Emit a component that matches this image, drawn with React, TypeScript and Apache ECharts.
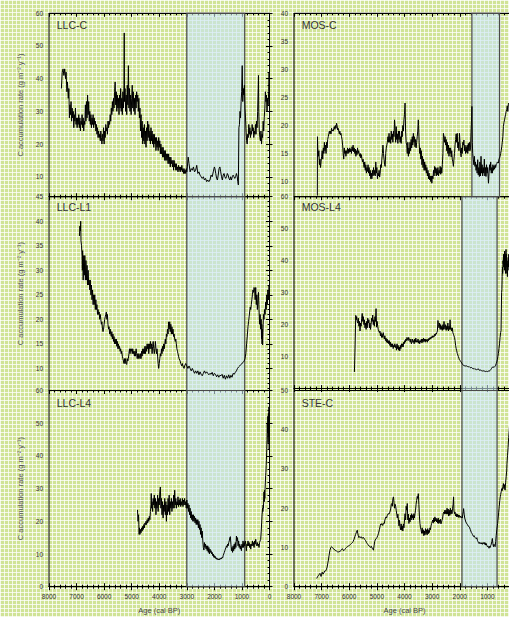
import React, { useEffect, useRef } from 'react';
import * as echarts from 'echarts';

// ---------------- DATA ----------------
// [age (cal BP), C accumulation rate (g m-2 y-1)]
const LLC_C: number[][] = [
  [7550,37],[7520,42],[7490,43],[7460,41],[7430,43],[7400,40],[7380,42],[7350,36],[7330,39],[7300,34],[7280,37],[7260,28],[7240,32],[7220,29],[7200,33],[7180,27],[7160,31],[7140,28],[7120,30],[7100,25],[7080,29],[7060,27],[7040,31],[7020,26],[7000,28],[6980,25],[6960,28],[6940,26],[6920,29],[6900,25],[6880,28],[6860,24],[6840,27],[6820,26],[6800,29],[6780,25],[6760,28],[6740,24],[6720,27],[6700,26],[6680,32],[6660,27],[6640,33],[6620,28],[6600,35],[6580,29],[6560,33],[6540,27],[6520,30],[6500,26],[6480,29],[6460,25],[6440,28],[6420,26],[6400,29],[6380,25],[6360,28],[6340,26],[6320,27],[6300,24],[6280,26],[6260,23],[6240,25],[6220,22],[6200,24],[6180,22],[6160,23],[6140,21],[6120,24],[6100,22],[6080,20],[6060,23],[6040,21],[6020,25],[6000,20],[5980,24],[5960,22],[5940,26],[5920,24],[5900,25],[5880,23],[5860,27],[5840,25],[5820,27],[5800,26],[5780,29],[5760,27],[5740,31],[5720,29],[5700,33],[5680,30],[5660,34],[5640,31],[5620,36],[5600,39],[5580,32],[5560,36],[5540,30],[5520,35],[5500,31],[5480,34],[5460,29],[5440,35],[5420,31],[5400,37],[5380,30],[5360,34],[5340,29],[5320,36],[5300,31],[5280,38],[5270,54],[5260,33],[5240,37],[5220,30],[5200,35],[5180,29],[5160,38],[5140,32],[5120,44],[5100,31],[5080,37],[5060,30],[5040,35],[5020,29],[5000,34],[4980,38],[4960,31],[4940,36],[4920,30],[4900,34],[4880,29],[4860,35],[4840,31],[4820,36],[4800,33],[4780,35],[4760,30],[4740,34],[4720,28],[4700,31],[4680,24],[4660,29],[4640,22],[4620,27],[4600,20],[4580,25],[4560,21],[4540,26],[4520,20],[4500,24],[4480,19],[4460,25],[4440,21],[4420,27],[4400,22],[4380,26],[4360,21],[4340,24],[4320,20],[4300,25],[4280,21],[4260,24],[4240,20],[4220,23],[4200,19],[4180,23],[4160,20],[4140,22],[4120,18],[4100,22],[4080,19],[4060,21],[4040,18],[4020,22],[4000,19],[3980,21],[3960,17],[3940,20],[3920,17],[3900,19],[3880,16],[3860,19],[3840,16],[3820,18],[3800,15],[3780,18],[3760,15],[3740,17],[3720,15],[3700,17],[3680,14],[3660,17],[3640,14],[3620,16],[3600,13],[3580,16],[3560,14],[3540,15],[3520,13],[3500,15],[3480,12],[3460,15],[3440,13],[3420,14],[3400,12],[3380,14],[3360,12],[3340,13],[3320,11.5],[3300,13.5],[3280,12],[3260,13],[3240,11.5],[3220,13],[3200,12],[3180,13.5],[3160,11.5],[3140,12.5],[3120,11],[3100,12.5],[3080,11],[3060,12],[3040,11],[3020,12.5],[3000,11.5],[2980,13],[2950,16],[2920,14],[2880,11.5],[2840,12.5],[2800,12],[2760,13],[2720,11.5],[2680,12],[2640,13.5],[2600,11],[2560,11.5],[2520,10.5],[2480,10],[2440,9.5],[2400,10],[2360,9],[2320,9.5],[2280,8.5],[2240,9],[2200,8.5],[2160,9],[2120,10.5],[2080,10],[2040,11.5],[2000,13],[1980,12.5],[1950,11],[1920,9.5],[1890,9],[1860,10.5],[1830,12.5],[1800,13],[1770,11.5],[1740,10],[1710,9],[1680,10.5],[1650,11],[1620,10],[1590,9.5],[1560,10],[1530,11],[1500,10.5],[1470,9.5],[1440,9],[1410,10],[1380,9],[1350,10],[1320,10.5],[1290,10],[1260,9.5],[1230,10],[1200,11],[1170,10],[1150,8.5],[1130,7.5],[1110,25],[1090,26],[1070,30],[1050,28],[1030,33],[1010,36],[990,44],[970,33],[950,37],[930,35],[910,38],[890,31],[870,28],[850,24],[830,21],[810,20],[790,23],[770,22],[750,26],[730,23],[710,25],[690,22],[670,24],[650,23],[630,26],[610,24],[590,25],[570,22],[550,24],[530,23],[510,26],[490,23],[470,27],[450,25],[430,30],[410,37],[400,41],[390,30],[370,24],[350,22],[330,21],[310,24],[290,20],[270,23],[250,22],[230,27],[210,24],[190,28],[170,31],[150,36],[130,33],[110,35],[90,30],[70,34],[50,32],[30,36],[15,42],[5,35]
];

const LLC_L1: number[][] = [
  [6895,37],[6880,39],[6860,38],[6850,40],[6840,36],[6820,35],[6800,33],[6790,30],[6780,34],[6760,28],[6740,33],[6720,29],[6700,33],[6680,28],[6660,32],[6640,28],[6620,31],[6600,27],[6580,30],[6560,27],[6540,28],[6520,26],[6500,28],[6480,25],[6460,27],[6440,24],[6420,26],[6400,23],[6380,25],[6360,23],[6340,25],[6320,22],[6300,24],[6280,22],[6260,23],[6240,21],[6220,22],[6200,21],[6180,21.5],[6160,20],[6140,21],[6120,20],[6100,19],[6080,19.5],[6060,18],[6040,17.5],[6020,18],[6000,19],[5980,20],[5960,20.5],[5940,21],[5920,21.5],[5900,20],[5880,21],[5860,19],[5840,18],[5820,18.5],[5800,17],[5780,18],[5760,17],[5740,16.5],[5720,17.5],[5700,16],[5680,17],[5660,15.5],[5640,16.5],[5620,15],[5600,16],[5580,15],[5560,16],[5540,14.5],[5520,15.5],[5500,14],[5480,15],[5460,14],[5440,14.5],[5420,13.5],[5400,14],[5380,13],[5360,13.5],[5340,12.5],[5320,12],[5300,11.5],[5280,11],[5260,12],[5240,11],[5220,12],[5200,11],[5180,10.8],[5160,12],[5140,11.5],[5120,12],[5100,13],[5080,14],[5060,13],[5040,14],[5020,13.5],[5000,14],[4980,13],[4960,14],[4940,13],[4920,13.5],[4900,12.5],[4880,13.5],[4860,12.5],[4840,14],[4820,13],[4800,12],[4780,13],[4760,12],[4740,13],[4720,12.5],[4700,12],[4680,13],[4660,12],[4640,13.5],[4620,12.5],[4600,14],[4580,13],[4560,14],[4540,13],[4520,14.5],[4500,13],[4480,14.5],[4460,13.5],[4440,15],[4420,14],[4400,15],[4380,13],[4360,15],[4340,14],[4320,15.5],[4300,14],[4280,15],[4260,13],[4240,14.5],[4220,15.5],[4200,14],[4180,13],[4160,14],[4140,15.5],[4120,14],[4100,13],[4080,14],[4060,12.5],[4040,11],[4020,10],[4000,11],[3980,12],[3960,13],[3940,12.5],[3920,14],[3900,13],[3880,14.5],[3860,13.5],[3840,15],[3820,14],[3800,15],[3780,16],[3760,15],[3740,17],[3720,16.5],[3700,18],[3680,17],[3660,19.5],[3640,18],[3620,19.5],[3600,17.5],[3580,19],[3560,17],[3540,18.5],[3520,17],[3500,18],[3480,16.5],[3460,17],[3440,16],[3420,15.5],[3400,16],[3380,15],[3360,14],[3340,13.5],[3320,13],[3300,12.5],[3280,12],[3260,12],[3240,11.5],[3220,11],[3200,11],[3180,10.5],[3160,11],[3140,10.5],[3120,10.5],[3100,10],[3080,10.5],[3060,10.5],[3040,11],[3000,10.5],[2960,10],[2920,10.5],[2880,10],[2840,9.5],[2800,10],[2760,9.5],[2720,9],[2680,9.5],[2640,9],[2600,9.5],[2560,8.7],[2520,9.3],[2480,8.8],[2440,8.5],[2400,9],[2360,9.5],[2320,9],[2280,9.3],[2240,9],[2200,8.7],[2160,9],[2120,8.8],[2080,9.2],[2040,8.5],[2000,9],[1960,8.8],[1920,8.3],[1880,8.7],[1840,8.2],[1800,8.6],[1760,8.5],[1720,8.8],[1680,8],[1640,8.6],[1600,7.8],[1560,8.5],[1520,8],[1480,8.7],[1440,8],[1400,8.6],[1360,8.2],[1320,9],[1280,8.8],[1240,9.2],[1200,9.5],[1160,10],[1120,10.3],[1080,10.5],[1040,10.8],[1000,11],[960,11.2],[920,11.5],[890,12],[860,13],[830,15],[800,17],[780,18.5],[760,19.5],[740,20.5],[720,21.5],[700,22.5],[680,22],[660,23],[640,24],[620,25],[600,26],[580,25.5],[560,26.5],[540,26],[520,24],[500,26.5],[480,23],[460,25],[440,22],[420,24],[400,25.5],[380,22],[360,19],[340,21],[320,18],[300,20],[290,16],[280,19],[270,15],[260,18],[250,14.8],[240,17],[230,19],[220,21],[200,20],[180,22],[160,21],[140,23.5],[120,22],[100,25],[80,23],[60,26],[40,24],[20,27],[5,26.5]
];

const LLC_L4: number[][] = [
  [4790,23.5],[4770,20],[4750,22],[4730,16],[4720,18],[4700,16],[4680,17.5],[4660,16.5],[4640,18],[4620,17],[4600,18.5],[4580,17.5],[4560,19],[4540,18],[4520,19.5],[4500,19],[4480,20],[4460,19],[4440,20.5],[4420,19.5],[4400,21],[4380,20],[4360,21.5],[4340,20.5],[4320,23],[4300,25],[4290,28.5],[4280,24],[4260,26],[4240,23],[4220,27],[4200,25],[4180,28],[4160,24],[4140,27],[4120,22],[4100,26],[4080,24],[4060,28],[4040,23],[4020,27],[4000,25],[3980,29],[3960,30.5],[3940,24],[3920,27],[3900,22],[3880,26],[3860,21],[3840,25],[3820,23],[3800,27],[3780,22],[3760,26],[3740,20],[3720,25],[3700,22],[3680,27],[3660,23],[3640,28],[3620,22],[3600,26],[3580,24],[3560,27],[3540,23],[3520,26],[3500,24],[3480,28],[3460,24],[3440,29.5],[3420,25],[3400,27],[3380,24],[3360,26],[3340,25],[3320,27.5],[3300,24.5],[3280,26.5],[3260,25],[3240,27],[3220,24.5],[3200,26],[3180,25],[3160,27],[3140,24.5],[3120,26.5],[3100,25],[3080,27],[3060,25],[3040,26],[3020,24],[3000,26.5],[2980,24],[2960,25.5],[2940,23],[2920,25],[2900,22],[2880,24],[2860,21],[2840,23],[2820,20.5],[2800,22],[2780,20],[2760,22],[2740,20],[2720,21.5],[2700,19.5],[2680,21],[2660,19],[2640,20.5],[2620,19],[2600,20.5],[2580,18],[2560,20],[2540,17.5],[2520,19],[2500,16],[2480,18],[2460,15],[2440,17],[2420,14],[2400,12],[2380,11.2],[2360,13.5],[2340,12],[2320,13],[2300,11.5],[2280,12.5],[2260,11],[2240,12.5],[2220,10.5],[2200,12],[2180,10],[2160,11.5],[2140,10.5],[2120,11],[2100,10],[2080,10.5],[2060,9.5],[2040,10],[2020,9],[2000,9.5],[1980,8.8],[1960,9.2],[1940,8.5],[1920,8.8],[1900,8.3],[1880,8.6],[1860,8.2],[1840,8.5],[1820,8.2],[1800,8.6],[1780,8.4],[1760,8.8],[1740,8.5],[1720,9],[1700,8.8],[1680,9.5],[1660,10],[1640,10.5],[1620,11],[1600,11.5],[1580,12],[1560,12.5],[1540,12],[1520,13],[1500,12.5],[1480,13.5],[1460,14],[1440,15],[1420,15.3],[1400,13],[1380,11],[1360,12],[1340,10.5],[1320,12.5],[1300,11],[1280,13],[1260,11.5],[1240,13.5],[1220,12],[1200,15.5],[1180,14],[1160,15],[1140,12.5],[1120,14],[1100,12],[1080,13],[1060,11.5],[1040,12.5],[1020,11],[1000,13],[980,12],[960,14],[940,12],[920,13.5],[900,12.5],[880,14],[860,13],[840,11],[820,13],[800,12.5],[780,14],[760,12.5],[740,13.5],[720,12],[700,13],[680,11.5],[660,13],[640,12.5],[620,14],[600,12.5],[580,13.5],[560,12],[540,14],[520,13],[500,14.5],[480,13],[460,12.5],[440,13.5],[420,12.5],[400,13],[380,12],[360,13.5],[340,14],[320,14.5],[300,17],[285,19.5],[270,22],[250,24],[240,23],[230,25],[220,24],[200,29],[190,26],[180,29.5],[170,27],[160,30],[150,32],[140,34],[130,35],[120,37],[110,39],[100,42],[90,45],[80,50],[70,47],[60,52],[50,44],[40,53],[30,46],[20,55],[10,42],[5,48]
];

const MOS_C: number[][] = [
  [7155,7.5],[7150,18],[7140,16],[7120,14.5],[7100,15.5],[7080,13],[7060,14],[7040,12.5],[7020,13.5],[7000,14.5],[6980,15.5],[6960,14],[6940,16],[6920,15],[6900,17],[6880,15.5],[6860,16.5],[6840,15],[6820,17],[6800,16],[6780,17.5],[6760,18],[6740,18.5],[6720,19],[6700,18.5],[6680,19],[6660,18.5],[6640,19.5],[6620,19],[6600,19.2],[6580,19],[6560,19.5],[6540,19.8],[6520,19.3],[6500,20],[6480,19.5],[6460,20.4],[6440,20],[6420,19.2],[6400,19.5],[6380,19],[6360,18.5],[6340,19],[6320,18.3],[6300,18.6],[6280,18],[6260,17.5],[6240,16.5],[6220,15],[6200,14],[6180,16],[6160,15],[6140,15.5],[6120,14.5],[6100,15.5],[6080,15],[6060,16],[6040,15],[6020,15.8],[6000,15.2],[5980,16],[5960,15.3],[5940,15.8],[5920,15],[5900,16.2],[5880,15.5],[5860,16.5],[5840,15.3],[5820,16],[5800,15],[5780,15.8],[5760,14.5],[5740,15.5],[5720,14.8],[5700,16],[5680,15],[5660,15.5],[5640,15],[5620,14.5],[5600,15],[5580,14.2],[5560,14.8],[5540,14],[5520,13.5],[5500,14],[5480,13],[5460,12.5],[5440,13.5],[5420,12],[5400,13],[5380,11.5],[5360,12.5],[5340,11.8],[5320,13],[5300,11.5],[5280,12.5],[5260,11],[5240,12],[5220,10.5],[5200,11.5],[5180,10.5],[5160,12],[5140,11],[5120,12.5],[5100,11.2],[5080,12],[5060,11],[5040,13.5],[5020,11.5],[5000,12.5],[4980,10.5],[4960,11.5],[4940,11],[4920,12],[4900,10.8],[4880,11.5],[4860,13],[4840,12.5],[4820,14],[4800,15],[4780,16.5],[4760,15],[4740,14],[4720,13],[4700,12.7],[4680,15],[4660,16],[4640,16.5],[4620,17],[4600,18],[4580,17],[4560,18.6],[4540,17],[4520,18],[4500,16.8],[4480,19],[4460,17.5],[4440,18.5],[4420,17],[4400,19],[4380,18],[4360,21],[4340,19.5],[4320,17],[4300,19.8],[4280,17.5],[4260,18.5],[4240,16.8],[4220,19],[4200,17.5],[4180,19],[4160,17],[4140,18],[4120,16.8],[4100,19],[4080,18],[4060,20],[4040,19],[4020,21],[4000,22],[3980,24],[3960,19],[3940,17],[3920,16.5],[3900,15],[3880,17],[3860,14.5],[3840,16],[3820,15],[3800,17],[3780,15.5],[3760,17.5],[3740,16],[3720,18],[3700,16.5],[3680,18.6],[3660,17],[3640,18],[3620,16.2],[3600,17.5],[3580,16],[3560,17],[3540,18],[3520,19],[3500,21],[3490,20],[3470,17],[3450,15],[3430,16],[3410,14],[3390,15.5],[3370,13],[3350,14.5],[3330,12.5],[3310,14],[3290,12],[3270,13.5],[3250,12],[3230,13],[3210,11.5],[3190,12.5],[3170,11],[3150,12],[3130,10.5],[3110,11.5],[3090,10.3],[3070,11],[3050,10],[3030,11],[3010,9.7],[2990,11],[2970,10.5],[2950,12],[2930,11],[2910,12.7],[2890,11.5],[2870,12.5],[2850,11],[2830,12.3],[2810,11.2],[2790,12.5],[2770,11],[2750,12],[2730,11.5],[2710,12.7],[2690,11.3],[2670,12.5],[2650,11.5],[2630,13],[2610,15],[2590,18.6],[2570,18],[2550,17],[2530,18],[2510,16.5],[2490,17.5],[2470,15.5],[2450,17],[2430,15],[2410,16.5],[2390,14.5],[2370,16],[2350,15],[2330,16],[2310,14.4],[2290,15.5],[2270,14],[2250,13.5],[2230,12.7],[2210,14],[2190,15],[2170,16.5],[2150,17.5],[2130,18.5],[2110,17],[2090,18.6],[2070,16],[2050,17],[2030,15.5],[2010,18.6],[1990,17],[1970,15],[1950,14.4],[1930,16],[1910,15],[1890,17],[1870,16.5],[1850,17.4],[1830,15.5],[1810,16.5],[1790,15],[1770,16.2],[1750,15.2],[1730,16.5],[1710,15],[1690,16.8],[1670,15.5],[1650,17],[1630,15.5],[1610,16],[1590,19],[1570,21.5],[1560,23.4],[1545,17],[1530,15],[1510,14],[1490,13],[1470,14.5],[1450,12.7],[1430,13.5],[1410,12],[1390,13],[1370,11.5],[1350,13.9],[1330,11.2],[1310,12.5],[1290,10.9],[1270,13.5],[1250,11],[1230,14.5],[1210,11.5],[1190,13],[1170,11],[1150,12.5],[1130,11.5],[1110,14],[1090,11],[1070,12.5],[1050,10.9],[1030,13],[1010,11.5],[990,12.5],[970,10.5],[960,9.7],[940,11.5],[920,13],[900,12],[880,13.5],[860,11.5],[840,12.5],[820,11.5],[800,13],[780,12],[760,12.8],[740,12.2],[720,13],[700,12.5],[680,13],[660,13.2],[640,13.5],[620,13.5],[600,13.3],[580,14],[560,14.2],[540,14.5],[520,15],[500,15.5],[480,16.2],[460,17],[440,18],[420,19.8],[400,20.5],[380,21],[360,21.5],[340,22],[320,22.5],[300,22.8],[280,23.5],[260,22.5],[240,23.8],[220,24],[200,23.5],[150,24],[100,23]
];

const MOS_L4: number[][] = [
  [5813,5.2],[5790,13],[5765,22.9],[5750,21.5],[5730,22.5],[5710,21],[5690,20.5],[5670,22],[5650,19.5],[5630,21],[5610,18],[5590,20.5],[5570,19.5],[5550,22],[5530,23.5],[5510,21],[5490,22.5],[5470,20],[5450,21.5],[5430,19],[5410,20.5],[5390,18.5],[5370,21],[5350,19],[5330,22],[5310,20.5],[5290,21.5],[5270,19],[5250,20.5],[5230,18.5],[5210,20],[5190,22],[5170,21],[5150,23],[5130,20],[5110,21.5],[5090,19.5],[5070,22.5],[5050,21],[5030,25],[5010,19.2],[4990,21],[4970,19.5],[4950,18.5],[4930,18],[4910,17.5],[4890,18],[4870,16.5],[4850,17.5],[4830,16],[4810,17],[4790,16],[4770,17.5],[4750,16.5],[4730,15.5],[4710,16.5],[4690,15],[4670,15.8],[4650,14.5],[4630,15.5],[4610,14.3],[4590,15],[4570,14],[4550,15],[4530,13.5],[4510,14.5],[4490,13],[4470,14],[4450,13],[4430,14],[4410,12.5],[4390,13.5],[4370,13],[4350,14],[4330,12.8],[4310,13.5],[4290,12],[4270,14],[4250,12.5],[4230,13.5],[4210,12],[4190,13],[4170,11.8],[4150,13.5],[4130,12.5],[4110,14],[4090,13],[4070,14],[4050,13],[4030,14.5],[4010,14],[3990,15],[3970,14.5],[3950,15.5],[3930,15],[3910,16],[3890,15.5],[3870,15],[3850,16],[3830,15.5],[3810,15],[3790,14.5],[3770,15.5],[3750,14],[3730,14.5],[3710,15.5],[3690,14.5],[3670,15],[3650,14],[3630,15.5],[3610,14.5],[3590,15.8],[3570,14.5],[3550,15],[3530,14.5],[3510,15.5],[3490,14.2],[3470,15],[3450,14],[3430,15],[3410,14.5],[3390,15.5],[3370,14.3],[3350,15.5],[3330,14.5],[3310,15.8],[3290,14.8],[3270,15.5],[3250,14.5],[3230,15.5],[3210,14.8],[3190,15.3],[3170,14.5],[3150,15.5],[3130,15],[3110,15.8],[3090,15.3],[3070,16],[3050,15.5],[3030,16.2],[3010,15.8],[2990,16.5],[2970,16],[2950,16.5],[2930,16.2],[2910,17],[2890,16.5],[2870,17.2],[2850,17],[2830,17.5],[2810,18],[2790,21.3],[2770,20],[2750,19],[2730,20.5],[2710,18.5],[2690,20],[2670,18.5],[2650,19.5],[2630,18.2],[2610,20],[2590,18.5],[2570,21],[2550,19],[2530,18.5],[2510,20],[2490,18.2],[2470,19.5],[2450,18.5],[2430,20.5],[2410,18],[2390,19.5],[2370,18.5],[2350,21.5],[2330,18.5],[2310,19],[2290,18],[2270,19],[2250,17.5],[2230,17],[2210,16.5],[2190,16],[2170,15],[2150,13.5],[2130,12.5],[2110,11.8],[2090,11],[2070,10.5],[2050,10],[2030,9.5],[2010,9],[1990,8.8],[1970,8.5],[1950,8.3],[1930,8],[1900,7.6],[1870,7.3],[1840,7.1],[1810,7.2],[1780,7],[1750,7.1],[1720,6.9],[1690,6.8],[1660,6.9],[1630,6.6],[1600,6.5],[1570,6.6],[1540,6.3],[1510,6.2],[1480,6.3],[1450,6],[1420,6.1],[1390,5.9],[1360,6],[1330,6.2],[1300,5.8],[1270,5.7],[1240,5.8],[1210,5.6],[1180,5.5],[1150,5.6],[1120,5.4],[1090,5.5],[1060,5.3],[1030,5.4],[1000,5.3],[970,5.5],[940,5.4],[910,5.6],[880,5.9],[850,6.3],[820,6.7],[790,6.8],[760,6.6],[730,6.9],[700,7.3],[680,7.8],[660,8.3],[640,9],[620,10],[600,11],[580,12.5],[560,14],[540,16],[520,17.5],[505,18.2],[495,24],[485,30],[475,31],[465,35],[455,38],[445,36],[435,40],[425,39],[415,42],[405,38],[395,41],[385,37],[375,43],[365,39],[355,42],[345,36],[335,41],[325,43.5],[315,38],[305,42],[295,36],[285,40],[275,35],[265,39],[255,37],[245,41],[235,38],[225,42],[215,39],[200,40]
];

const STE_C: number[][] = [
  [7180,2.1],[7150,2.5],[7120,2.8],[7090,3.1],[7060,3.4],[7040,3],[7020,2.6],[7000,3.2],[6980,3.7],[6950,3.2],[6920,3.5],[6890,4],[6860,4],[6830,4.3],[6800,5],[6780,5.8],[6755,6.8],[6730,8],[6700,9.3],[6670,9.9],[6640,10.2],[6610,10],[6580,9.7],[6550,9.6],[6520,9.3],[6490,9.2],[6460,9.1],[6430,8.9],[6400,8.8],[6370,9],[6340,8.9],[6310,9.2],[6280,9.5],[6250,9.7],[6220,9.3],[6190,9.2],[6160,9.5],[6130,9.8],[6100,10],[6070,10.2],[6040,10.3],[6010,10.5],[5980,10.6],[5950,10.8],[5920,11],[5890,11.2],[5860,11.5],[5830,12],[5800,12.7],[5770,13.3],[5740,13.9],[5710,14.4],[5690,13.5],[5670,13],[5650,12.5],[5620,12.8],[5590,12.5],[5560,12.7],[5530,12.3],[5500,12.6],[5470,12.4],[5440,12],[5410,11.8],[5380,11.3],[5350,11],[5320,10.7],[5290,10.4],[5260,10.3],[5230,10],[5200,10.3],[5170,9.8],[5140,9.5],[5125,9.3],[5100,10.5],[5080,11.5],[5060,11.9],[5030,12.2],[5000,12.5],[4970,13],[4940,13.6],[4910,14.5],[4880,15.5],[4860,16],[4840,15.8],[4820,16.1],[4790,15.6],[4760,16.2],[4730,16.1],[4710,17],[4690,17.5],[4670,17.8],[4650,17.5],[4620,18.2],[4590,18.6],[4560,18.5],[4530,19],[4500,19.8],[4480,21],[4460,21.2],[4440,20.5],[4420,22.5],[4400,22.9],[4380,21.5],[4360,20],[4340,21],[4320,20.5],[4300,19.5],[4280,18.5],[4260,17.5],[4240,18.5],[4220,17],[4200,15.5],[4180,16.9],[4160,15.2],[4140,14.5],[4120,16],[4100,14.4],[4080,15.5],[4060,14.2],[4040,16],[4020,15],[4000,17],[3980,18.6],[3960,17],[3940,20.5],[3920,19.5],[3900,21.2],[3880,17],[3860,18.5],[3840,16.1],[3820,17.5],[3800,16.5],[3780,18.2],[3760,17],[3740,18.6],[3720,17.5],[3700,18.2],[3680,17],[3660,18.6],[3640,17.5],[3620,18.6],[3600,19.5],[3580,21],[3560,22],[3540,23],[3520,22.5],[3500,23.7],[3480,21],[3460,18],[3440,16.1],[3420,15],[3400,14.5],[3380,13.6],[3360,15],[3340,13.6],[3320,14.5],[3300,13],[3280,14.2],[3260,13.2],[3240,14.8],[3220,13.5],[3200,14.5],[3180,13.2],[3160,14.8],[3140,13.5],[3120,14.4],[3100,13.8],[3080,15],[3060,14.5],[3040,15.5],[3020,16.1],[3000,16.5],[2980,17],[2960,16.2],[2940,17.5],[2920,16.5],[2900,17.8],[2880,16.8],[2860,17.5],[2840,16.5],[2820,17.2],[2800,16.2],[2780,17.5],[2760,16.1],[2740,17],[2720,16.3],[2700,17.2],[2680,16],[2660,16.5],[2640,17],[2620,17.5],[2600,18.6],[2580,19],[2560,18.5],[2540,19.5],[2520,18.6],[2500,19.5],[2480,18.5],[2460,20],[2440,18.5],[2420,19.8],[2400,18],[2380,19.5],[2360,18.2],[2340,20],[2320,18.5],[2300,19.5],[2280,18.6],[2260,20],[2240,21],[2225,22.9],[2210,19.5],[2190,18.6],[2170,19],[2150,18],[2130,18.6],[2110,17.8],[2090,18.5],[2070,17.8],[2050,18.3],[2030,17.6],[2010,18.2],[1990,17.8],[1970,18],[1950,17.5],[1930,17.8],[1910,17.5],[1890,18.5],[1870,19.2],[1860,19.9],[1840,18.5],[1820,17.5],[1800,17],[1780,16.5],[1760,16.5],[1740,16],[1720,15.8],[1700,15.5],[1680,15.5],[1660,15.3],[1640,15],[1620,14.6],[1600,14.2],[1580,13.8],[1560,13.6],[1540,13.3],[1520,13.2],[1500,12.8],[1480,13],[1460,12.7],[1440,12.5],[1420,12.6],[1400,12.2],[1380,12.5],[1360,11.8],[1340,11.5],[1320,11.2],[1300,11],[1280,11.3],[1260,11],[1240,11.2],[1220,10.9],[1200,11.2],[1180,10.8],[1160,11.2],[1140,11],[1120,11.3],[1100,10.8],[1080,11.2],[1060,10.6],[1040,11],[1020,10.5],[1000,10.2],[980,10.4],[960,10.2],[940,9.8],[920,10.3],[900,10],[880,10.5],[860,10.8],[840,11.5],[820,12.3],[800,11],[780,10.2],[760,10.8],[740,10.5],[720,10.2],[700,11.5],[680,13],[660,14.5],[640,15.5],[630,16.1],[610,17.5],[590,19],[570,20.5],[550,22],[535,22.9],[520,23.5],[500,24.2],[480,25],[460,24.5],[440,25.5],[420,26.3],[400,25],[380,26],[360,24.6],[340,26.5],[320,28],[300,29.5],[290,31.4],[270,33.5],[250,35.5],[230,38],[210,39.8],[190,42],[170,45]
];

// y-axis tick labels per panel
const LLC_C_TICKS = [10, 20, 30, 40, 50, 60];
const MOS_C_TICKS = [10, 15, 20, 25, 30, 35, 40];
const LLC_L1_TICKS = [10, 15, 20, 25, 30, 35, 40, 45];
const MOS_L4_TICKS = [10, 20, 30, 40, 50, 60];
const LLC_L4_TICKS = [0, 10, 20, 30, 40, 50, 60];
const STE_C_TICKS = [0, 10, 20, 30, 40, 50];

// x-axis (age) range
const AGE_MIN = 0;
const AGE_MAX = 8000;

// shaded intervals [older, younger] (cal BP)
const BAND_LLC = [3000, 900];
const BAND_MOS_C = [1560, 560];
const BAND_LATE = [1920, 650];

const PANEL_TITLES = ['LLC-C', 'MOS-C', 'LLC-L1', 'MOS-L4', 'LLC-L4', 'STE-C'];

const Y_NAME = 'C accumulation rate (g m\u207B\u00B2 y\u207B\u00B9)';
const X_NAME = 'Age (cal BP)';

// ---------------- LAYOUT ----------------
const ROW_TOP = [13.3, 196.7, 390.5];
const ROW_H = [183.4, 193.8, 196.2];
const COL_LEFT = [49, 294];
const COL_W = [220.5, 221];
const TITLE_Y = [24.5, 206.5, 403];
const FONT = '"Liberation Sans", Arial, sans-serif';

const PANELS = [
  { title: PANEL_TITLES[0], data: LLC_C, col: 0, row: 0, min: 3.9, max: 60, ticks: LLC_C_TICKS, minorStep: 2, band: BAND_LLC },
  { title: PANEL_TITLES[1], data: MOS_C, col: 1, row: 0, min: 7.3, max: 40, ticks: MOS_C_TICKS, minorStep: 1, band: BAND_MOS_C },
  { title: PANEL_TITLES[2], data: LLC_L1, col: 0, row: 1, min: 5.5, max: 45, ticks: LLC_L1_TICKS, minorStep: 1, band: BAND_LLC },
  { title: PANEL_TITLES[3], data: MOS_L4, col: 1, row: 1, min: -0.6, max: 60, ticks: MOS_L4_TICKS, minorStep: 2, band: BAND_LATE },
  { title: PANEL_TITLES[4], data: LLC_L4, col: 0, row: 2, min: 0, max: 60, ticks: LLC_L4_TICKS, minorStep: 2, band: BAND_LLC },
  { title: PANEL_TITLES[5], data: STE_C, col: 1, row: 2, min: 0, max: 50, ticks: STE_C_TICKS, minorStep: 2, band: BAND_LATE },
];

function minorValues(min: number, max: number, step: number): number[] {
  const out: number[] = [];
  for (let v = Math.ceil(min / step) * step; v <= max + 1e-9; v += step) out.push(+v.toFixed(3));
  return out;
}

function buildOption() {
  const grid: any[] = [];
  const xAxis: any[] = [];
  const yAxis: any[] = [];
  const series: any[] = [];
  const graphic: any[] = [];
  const black = { color: '#000', width: 1 };
  const labelStyle = { fontSize: 6.5, color: '#333', fontFamily: FONT };

  PANELS.forEach((p, i) => {
    const left = COL_LEFT[p.col];
    const top = ROW_TOP[p.row];
    const width = COL_W[p.col];
    const height = ROW_H[p.row];
    grid.push({
      left, top, width, height, show: true, borderColor: '#000', borderWidth: 1,
      backgroundColor: 'transparent', containLabel: false, outerBoundsMode: 'none',
    });

    const xb = xAxis.length;
    const hideZero = p.col === 1;
    xAxis.push({
      gridIndex: i, type: 'value', inverse: true, min: AGE_MIN, max: AGE_MAX, interval: 1000, position: 'bottom',
      axisLine: { show: true, lineStyle: black },
      axisTick: { show: true, length: 3.5, lineStyle: black },
      minorTick: { show: true, splitNumber: 5, length: 2, lineStyle: black },
      axisLabel: {
        show: p.row === 2, margin: 6,
        formatter: (v: number) => (hideZero && v === 0 ? '' : String(v)),
        ...labelStyle,
      },
      splitLine: { show: false },
      name: p.row === 2 ? X_NAME : '',
      nameLocation: 'middle', nameGap: 19.5,
      nameTextStyle: { fontSize: 7.5, color: '#444', fontFamily: FONT },
    });
    xAxis.push({
      gridIndex: i, type: 'value', inverse: true, min: AGE_MIN, max: AGE_MAX, interval: 1000, position: 'top',
      axisLine: { show: true, lineStyle: black },
      axisTick: { show: true, inside: p.row === 0, length: 3.5, lineStyle: black },
      minorTick: { show: true, splitNumber: 5, length: 2, lineStyle: black },
      axisLabel: { show: false },
      splitLine: { show: false },
    });

    const yl = yAxis.length;
    yAxis.push({
      gridIndex: i, type: 'value', min: p.min, max: p.max, position: 'left',
      axisLine: { show: true, lineStyle: black },
      axisTick: { show: true, length: 3.5, lineStyle: black, customValues: p.ticks },
      axisLabel: { show: true, margin: 6, customValues: p.ticks, ...labelStyle },
      splitLine: { show: false },
      name: p.col === 0 ? Y_NAME : '',
      nameLocation: 'middle', nameGap: 25,
      nameTextStyle: { fontSize: 7.5, color: '#555', fontFamily: FONT },
    });
    yAxis.push({
      gridIndex: i, type: 'value', min: p.min, max: p.max, position: 'left',
      axisLine: { show: false },
      axisTick: { show: true, length: 2, lineStyle: black, customValues: minorValues(p.min, p.max, p.minorStep) },
      axisLabel: { show: false },
      splitLine: { show: false },
    });
    if (p.col === 0) {
      yAxis.push({
        gridIndex: i, type: 'value', min: p.min, max: p.max, position: 'right',
        axisLine: { show: true, lineStyle: black },
        axisTick: { show: true, length: 3, lineStyle: black, customValues: p.ticks },
        axisLabel: { show: false },
        splitLine: { show: false },
      });
    }

    series.push({
      type: 'line', xAxisIndex: xb, yAxisIndex: yl, data: p.data,
      showSymbol: false, symbol: 'none', clip: true,
      lineStyle: { color: '#000', width: 1 },
      markArea: {
        silent: true,
        itemStyle: { color: 'rgba(200,228,245,0.6)', borderColor: '#4a4a4a', borderWidth: 1.2 },
        data: [[{ xAxis: p.band[0] }, { xAxis: p.band[1] }]],
      },
    });

    graphic.push({
      type: 'text', x: left + 7.7, y: TITLE_Y[p.row], z: 10,
      style: { text: p.title, fontSize: 10.5, fontWeight: 'normal', fill: '#333', fontFamily: FONT, verticalAlign: 'middle' },
    });
  });

  return { animation: false, grid, xAxis, yAxis, series, graphic };
}

export default function App() {
  const ref = useRef<HTMLDivElement>(null);
  useEffect(() => {
    if (!ref.current) return;
    const chart = echarts.init(ref.current, undefined, { renderer: 'svg' });
    chart.setOption(buildOption() as any);
    return () => chart.dispose();
  }, []);
  return (
    <div
      style={{
        position: 'fixed', left: 0, top: 0, width: 509, height: 617,
        backgroundColor: '#d0e396',
        backgroundImage:
          'linear-gradient(rgba(255,255,255,0.75) 1px, transparent 1px), linear-gradient(90deg, rgba(255,255,255,0.75) 1px, transparent 1px)',
        backgroundSize: '4px 4px',
      }}
    >
      <div ref={ref} style={{ width: 509, height: 617 }} />
    </div>
  );
}
